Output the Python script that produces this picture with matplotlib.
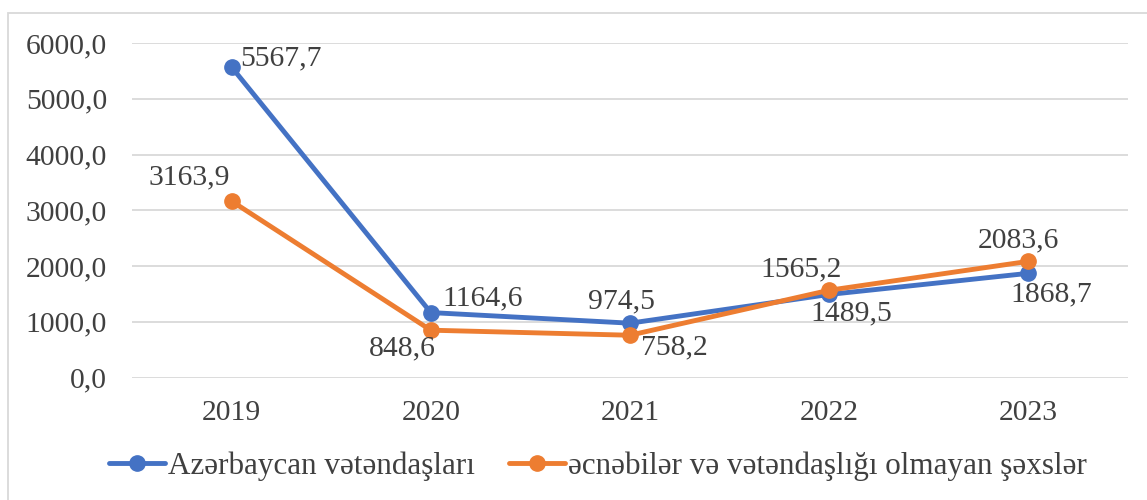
import matplotlib
matplotlib.use("Agg")
import matplotlib.pyplot as plt
from matplotlib.patches import Rectangle

plt.rcParams['font.family'] = ['Liberation Serif', 'DejaVu Serif']

years = ['2019', '2020', '2021', '2022', '2023']
citizens = [5567.7, 1164.6, 974.5, 1489.5, 1868.7]
foreigners = [3163.9, 848.6, 758.2, 1565.2, 2083.6]
series_names = ['Azərbaycan vətəndaşları',
                'əcnəbilər və vətəndaşlığı olmayan şəxslər']
y_ticks = [0, 1000, 2000, 3000, 4000, 5000, 6000]

blue = '#4472C4'
orange = '#ED7D31'
text_col = '#404040'
grid_col = '#D9D9D9'

# label offsets in pixels (dx, dy) relative to the point
blue_off = [(49, 9), (52, 14), (-9, 22), (22, -19), (23, -21)]
orange_off = [(-42, 24), (-28, -18), (44, -12), (-28, 21), (-10, 21)]


def fmt(v):
    return f"{v:.1f}".replace('.', ',')


fig = plt.figure(figsize=(11.47, 5.0), dpi=100)
ax = fig.add_axes([132 / 1147, 1 - 377.5 / 500, (1128 - 132) / 1147, (377.5 - 43) / 500])

x = list(range(len(years)))
ax.plot(x, citizens, color=blue, lw=3.5, marker='o', ms=11,
        label=series_names[0], zorder=3, solid_capstyle='round')
ax.plot(x, foreigners, color=orange, lw=3.5, marker='o', ms=11,
        label=series_names[1], zorder=4, solid_capstyle='round')

for vals, offs in [(citizens, blue_off), (foreigners, orange_off)]:
    for i, (v, (dx, dy)) in enumerate(zip(vals, offs)):
        ax.annotate(fmt(v), (i, v), xytext=(dx * 0.72, dy * 0.72),
                    textcoords='offset points', ha='center', va='center',
                    fontsize=21.3, color=text_col, zorder=5)

ax.set_xlim(-0.5, len(years) - 0.5)
ax.set_ylim(0, 6000)
ax.set_yticks(y_ticks)
ax.set_yticklabels([fmt(t) for t in y_ticks])
ax.set_xticks(x)
ax.set_xticklabels(years)
ax.tick_params(axis='both', length=0, labelsize=21.3, labelcolor=text_col)
ax.tick_params(axis='y', pad=18)
ax.tick_params(axis='x', pad=16)
ax.grid(axis='y', color=grid_col, lw=1.3)
ax.set_axisbelow(True)
for s in ax.spines.values():
    s.set_visible(False)

fig.legend(loc='center', bbox_to_anchor=(598 / 1147, 1 - 466 / 500), ncol=2,
           frameon=False, fontsize=22.4, handlelength=1.8, handletextpad=0.1,
           columnspacing=1.1, labelcolor=text_col)

fig.patches.append(Rectangle((8 / 1147, -0.1), 1.2, 1.1 - 13 / 500,
                             transform=fig.transFigure, fill=False,
                             edgecolor=grid_col, lw=1.3))

fig.savefig('out.png', dpi=100)
